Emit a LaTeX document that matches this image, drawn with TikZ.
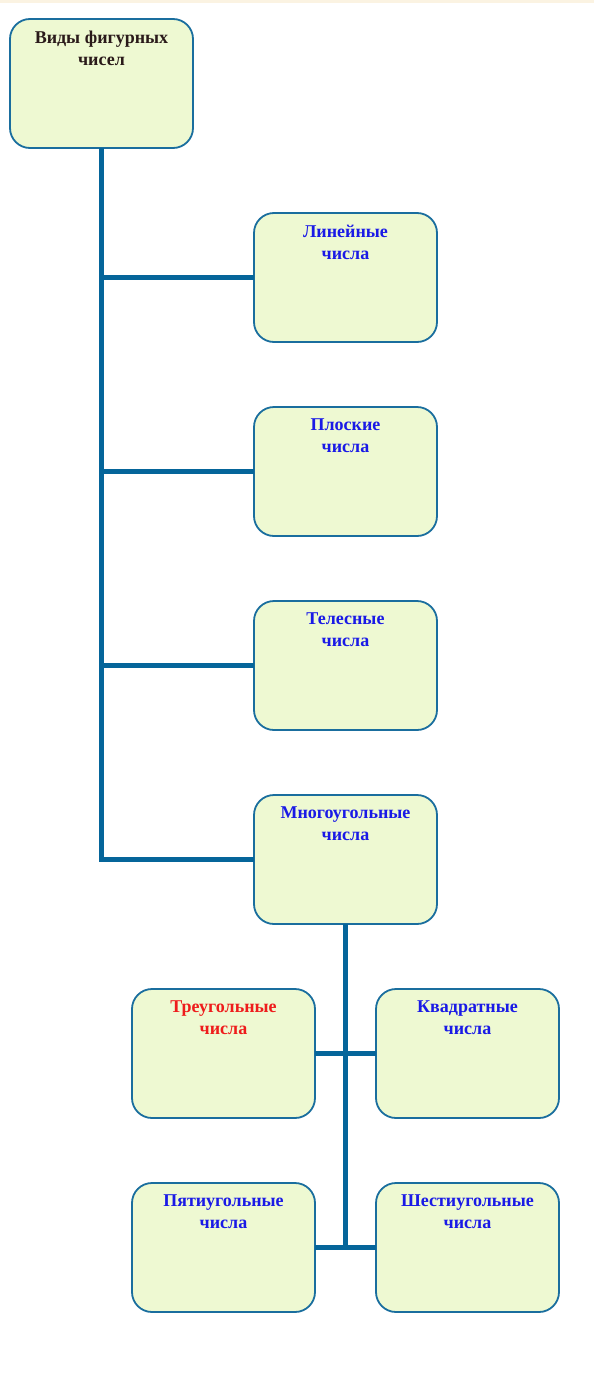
\documentclass[tikz,border=0pt]{standalone}
\usepackage{fontspec}
\setmainfont{Liberation Serif}
\usetikzlibrary{positioning}

\definecolor{boxfill}{HTML}{EEF9D2}
\definecolor{boxline}{HTML}{1A6E9E}
\definecolor{trunkline}{HTML}{05659A}
\definecolor{headtext}{HTML}{2A1A1A}
\definecolor{bluetext}{HTML}{1A1AE6}
\definecolor{redtext}{HTML}{EE1C1C}
\definecolor{topband}{HTML}{FBF3E2}

% text sits at the top of each box
\newcommand{\boxlabel}[1]{\begin{minipage}[c][125pt][t]{175pt}\centering\vspace*{10pt}#1\end{minipage}}

\begin{document}
\begin{tikzpicture}[
    x=1pt, y=-1pt,
    % Styles for boxes and connectors
    box/.style={draw=boxline, fill=boxfill, line width=1.8pt, rounded corners=20pt,
        minimum width=183pt, minimum height=129pt, inner sep=0pt, outer sep=0pt,
        font=\fontsize{18}{22}\selectfont\bfseries, text=bluetext},
    conn/.style={draw=trunkline, line width=5.5pt, line join=miter}
]
    \useasboundingbox (0,0) rectangle (594,1392);
    \fill[topband] (0,0) rectangle (594,3);

    % --- NODES ---
    \node [box, text=headtext] (kinds) at (101.5,83.5) {\boxlabel{Виды фигурных\\чисел}};
    \node [box] (linear) at (345.5,277.5) {\boxlabel{Линейные\\числа}};
    \node [box, below=65pt of linear] (plane) {\boxlabel{Плоские\\числа}};
    \node [box, below=65pt of plane] (solid) {\boxlabel{Телесные\\числа}};
    \node [box, below=65pt of solid] (polygon) {\boxlabel{Многоугольные\\числа}};

    % Polygonal numbers
    \node [box, text=redtext] (tri) at (223.5,1053.5) {\boxlabel{Треугольные\\числа}};
    \node [box, right=61pt of tri] (square) {\boxlabel{Квадратные\\числа}};
    \node [box, below=65pt of tri] (penta) {\boxlabel{Пятиугольные\\числа}};
    \node [box, below=65pt of square] (hexa) {\boxlabel{Шестиугольные\\числа}};

    % --- CONNECTIONS ---
    % Main trunk
    \draw [conn] (kinds.south) |- (polygon.west);
    \draw [conn] (kinds.south |- linear.west) -- (linear.west);
    \draw [conn] (kinds.south |- plane.west) -- (plane.west);
    \draw [conn] (kinds.south |- solid.west) -- (solid.west);

    % Lower trunk
    \draw [conn] (polygon.south) -- ([yshift=-1pt]polygon.south |- penta.east);
    \draw [conn] (tri.east) -- (square.west);
    \draw [conn] (penta.east) -- (hexa.west);

\end{tikzpicture}
\end{document}
